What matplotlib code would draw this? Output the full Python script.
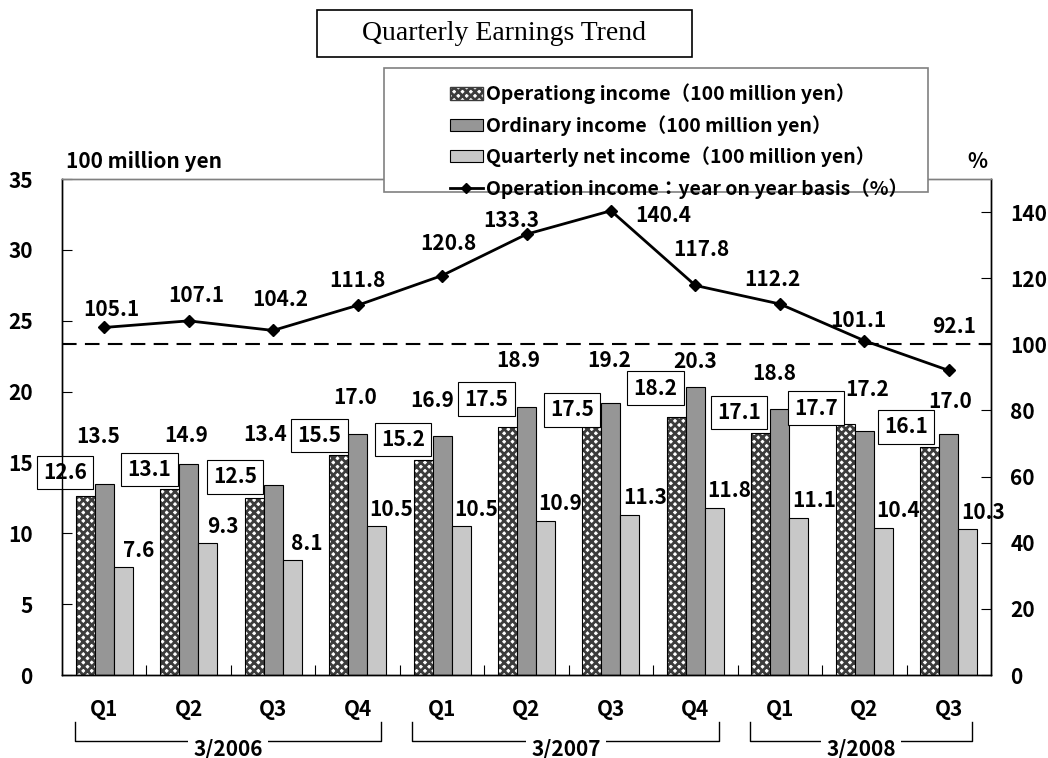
import matplotlib

matplotlib.use("Agg")
import matplotlib.pyplot as plt
import numpy as np
from matplotlib.lines import Line2D
from matplotlib.patches import Patch, Rectangle

# ---- data ----
quarters = ["Q1", "Q2", "Q3", "Q4", "Q1", "Q2", "Q3", "Q4", "Q1", "Q2", "Q3"]
fiscal_years = ["3/2006", "3/2007", "3/2008"]
fiscal_spans = [(0, 3), (4, 7), (8, 10)]  # first / last quarter index of each year
operating = [12.6, 13.1, 12.5, 15.5, 15.2, 17.5, 17.5, 18.2, 17.1, 17.7, 16.1]
ordinary = [13.5, 14.9, 13.4, 17.0, 16.9, 18.9, 19.2, 20.3, 18.8, 17.2, 17.0]
net_income = [7.6, 9.3, 8.1, 10.5, 10.5, 10.9, 11.3, 11.8, 11.1, 10.4, 10.3]
yoy = [105.1, 107.1, 104.2, 111.8, 120.8, 133.3, 140.4, 117.8, 112.2, 101.1, 92.1]

# hand-placed label nudges of the source chart, in pixels (dx, dy)
op_label_offsets = [(-20, 24), (-20, 20), (-19, 21), (-19, 20), (-20, 20), (-21, 28),
                    (-20, 17), (-21, 29), (-22, 20), (-29, 16), (-24, 20)]
ord_label_offsets = [(-6, 47), (-2, 28), (-8, 51), (-2, 37), (-10, 35), (-8, 47),
                     (-2, 42), (0, 26), (-6, 35), (3, 42), (1, 33)]
net_label_offset = (15, 17)
yoy_label_offsets = [(7, 18), (8, 25), (7, 31), (0, 25), (6, 32), (-15, 14),
                     (52, -5), (6, 36), (-7, 24), (-6, 20), (5, 44)]

plt.rcParams["font.family"] = ["Noto Sans CJK JP", "DejaVu Sans"]
plt.rcParams["font.weight"] = "bold"
plt.rcParams["hatch.linewidth"] = 2.0

W, H = 1048, 758
fig = plt.figure(figsize=(W / 100, H / 100), dpi=100)
ax = fig.add_axes([62 / W, (H - 675) / H, (991 - 62) / W, (675 - 179) / H])
ax2 = ax.twinx()

x = np.arange(len(quarters))
bw = 0.225
c_ord, c_net, c_hatch = "#969696", "#c8c8c8", "#3c3c3c"

# operating income: hatch drawn first, black outline on top
ax.bar(x - bw, operating, bw, facecolor="white", edgecolor=c_hatch, hatch="xxxx", lw=0)
ax.bar(x - bw, operating, bw, facecolor="none", edgecolor="black", lw=0.8)
ax.bar(x, ordinary, bw, facecolor=c_ord, edgecolor="black", lw=0.8)
ax.bar(x + bw, net_income, bw, facecolor=c_net, edgecolor="black", lw=0.8)

fs = 15
for i in range(len(x)):
    dx, dy = op_label_offsets[i]
    ax.annotate(f"{operating[i]:.1f}", (x[i] - bw, operating[i]), xytext=(dx, dy),
                textcoords="offset pixels", ha="center", va="center", fontsize=fs,
                bbox=dict(boxstyle="square,pad=0.3", fc="white", ec="black", lw=0.8))
    dx, dy = ord_label_offsets[i]
    ax.annotate(f"{ordinary[i]:.1f}", (x[i], ordinary[i]), xytext=(dx, dy),
                textcoords="offset pixels", ha="center", va="center", fontsize=fs)
    dx, dy = net_label_offset
    ax.annotate(f"{net_income[i]:.1f}", (x[i] + bw, net_income[i]), xytext=(dx, dy),
                textcoords="offset pixels", ha="center", va="center", fontsize=fs)

ax.set_xlim(-0.5, len(x) - 0.5)
ax.set_ylim(0, 35)
ax.set_yticks(range(0, 36, 5))
ax.set_xticks(x)
ax.set_xticklabels(quarters)
ax.set_xticks(np.arange(0.5, len(x) - 0.5), minor=True)
ax.tick_params(axis="x", which="major", length=0, pad=17, labelsize=fs)
ax.tick_params(axis="x", which="minor", direction="in", length=7, width=0.8)
ax.tick_params(axis="y", direction="in", length=7, width=0.8, pad=21, labelsize=fs)

# year-on-year line on the right axis
ax2.axhline(100, color="black", lw=1.5, ls=(0, (7, 4)))
ax2.plot(x, yoy, color="black", lw=2, marker="D", ms=6)
for i in range(len(x)):
    dx, dy = yoy_label_offsets[i]
    ax2.annotate(f"{yoy[i]:.1f}", (x[i], yoy[i]), xytext=(dx, dy),
                 textcoords="offset pixels", ha="center", va="center", fontsize=fs)
ax2.set_ylim(0, 150)
ax2.set_yticks(range(0, 141, 20))
ax2.tick_params(axis="y", direction="in", length=7, width=0.8, pad=14, labelsize=fs)

for a in (ax, ax2):
    a.spines["top"].set_color("#808080")
    a.spines["top"].set_linewidth(1.0)
    for s in ("left", "right", "bottom"):
        a.spines[s].set_linewidth(1.0)

# fiscal-year brackets under the quarter labels
trans = ax.get_xaxis_transform()
y_line, y_top = -0.133, -0.095
for label, (a0, a1) in zip(fiscal_years, fiscal_spans):
    x0, x1 = a0 - 0.35, a1 + 0.28
    ax.plot([x0, x0, x1, x1], [y_top, y_line, y_line, y_top], color="black", lw=1,
            transform=trans, clip_on=False)
    ax.text((x0 + x1) / 2, y_line - 0.016, label, transform=trans, ha="center", va="center",
            fontsize=fs, bbox=dict(boxstyle="square,pad=0.25", fc="white", ec="none"))

# unit labels
fig.text(66 / W, 1 - 162 / H, "100 million yen", ha="left", va="center", fontsize=15)
fig.text(977 / W, 1 - 161 / H, "%", ha="center", va="center", fontsize=15)

# title box
fig.add_artist(Rectangle((317 / W, 1 - 57 / H), (692 - 317) / W, 47 / H,
                         transform=fig.transFigure, fc="white", ec="black", lw=1.2))
fig.text(504.5 / W, 1 - 33.5 / H, "Quarterly Earnings Trend", ha="center", va="center",
         fontsize=20, family="Liberation Serif", weight="normal")

# legend in its own framed box overlapping the top of the plot
fig.add_artist(Rectangle((384 / W, 1 - 192 / H), (928 - 384) / W, (192 - 68) / H,
                         transform=fig.transFigure, fc="white", ec="#808080", lw=1.2,
                         zorder=3))
handles = [
    Patch(facecolor="white", edgecolor=c_hatch, hatch="xxxx"),
    Patch(facecolor=c_ord, edgecolor="black", lw=0.8),
    Patch(facecolor=c_net, edgecolor="black", lw=0.8),
    Line2D([], [], color="black", lw=2, marker="D", ms=5),
]
labels = [
    "Operationg income（100 million yen）",
    "Ordinary income（100 million yen）",
    "Quarterly net income（100 million yen）",
    "Operation income：year on year basis（%）",
]
fig.legend(handles, labels, loc="upper left", bbox_to_anchor=(436 / W, 1 - 70 / H),
           frameon=False, fontsize=14, labelspacing=0.55, handlelength=1.7,
           handleheight=0.6, handletextpad=0.15, borderpad=0.2)

fig.savefig("out.png", dpi=100)
